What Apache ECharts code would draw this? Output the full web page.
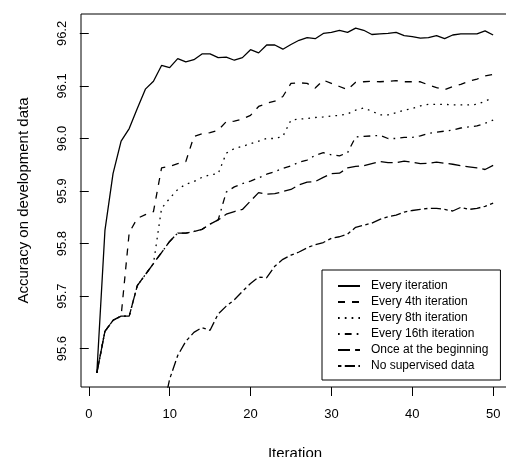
<!DOCTYPE html>
<html>
<head>
<meta charset="utf-8">
<script src="https://cdn.jsdelivr.net/npm/echarts@6/dist/echarts.min.js"></script>
<style>
  html, body { margin: 0; padding: 0; background: #fff; }
  #chart { width: 506px; height: 457px; }
</style>
</head>
<body>
<div id="chart"></div>
<script>
// iteration numbers on the x axis
var iterations = [1, 2, 3, 4, 5, 6, 7, 8, 9, 10, 11, 12, 13, 14, 15, 16, 17, 18, 19, 20,
    21, 22, 23, 24, 25, 26, 27, 28, 29, 30, 31, 32, 33, 34, 35, 36, 37, 38, 39, 40,
    41, 42, 43, 44, 45, 46, 47, 48, 49, 50];

var seriesNames = ['Every iteration', 'Every 4th iteration', 'Every 8th iteration',
    'Every 16th iteration', 'Once at the beginning', 'No supervised data'];

var everyIter = [95.554, 95.825, 95.933, 95.995, 96.019, 96.057, 96.094, 96.109, 96.139, 96.135,
    96.152, 96.146, 96.150, 96.161, 96.161, 96.154, 96.155, 96.149, 96.154, 96.169,
    96.163, 96.178, 96.178, 96.170, 96.179, 96.187, 96.192, 96.190, 96.200, 96.202,
    96.206, 96.202, 96.210, 96.206, 96.198, 96.199, 96.200, 96.202, 96.196, 96.194,
    96.191, 96.192, 96.196, 96.190, 96.197, 96.199, 96.199, 96.199, 96.205, 96.197];

var every4th = [95.554, 95.633, 95.654, 95.662, 95.821, 95.848, 95.855, 95.861, 95.944, 95.947,
    95.952, 95.956, 96.004, 96.009, 96.011, 96.016, 96.032, 96.033, 96.037, 96.044,
    96.061, 96.067, 96.071, 96.080, 96.105, 96.106, 96.105, 96.096, 96.111, 96.105,
    96.099, 96.093, 96.107, 96.108, 96.109, 96.108, 96.109, 96.110, 96.108, 96.108,
    96.108, 96.102, 96.097, 96.093, 96.099, 96.103, 96.109, 96.113, 96.119, 96.122];

var every8th = [95.554, 95.633, 95.654, 95.662, 95.662, 95.720, 95.741, 95.762, 95.867, 95.886,
    95.903, 95.913, 95.918, 95.926, 95.931, 95.933, 95.972, 95.981, 95.985, 95.990,
    95.995, 96.000, 96.000, 96.004, 96.035, 96.037, 96.038, 96.040, 96.041, 96.043,
    96.044, 96.047, 96.054, 96.058, 96.052, 96.045, 96.045, 96.049, 96.054, 96.057,
    96.062, 96.065, 96.065, 96.065, 96.064, 96.064, 96.064, 96.065, 96.071, 96.078];

var every16th = [95.554, 95.633, 95.654, 95.662, 95.662, 95.720, 95.741, 95.762, 95.783, 95.804,
    95.820, 95.820, 95.823, 95.827, 95.837, 95.845, 95.898, 95.908, 95.914, 95.919,
    95.925, 95.932, 95.937, 95.943, 95.948, 95.955, 95.959, 95.968, 95.973, 95.969,
    95.967, 95.973, 96.003, 96.004, 96.005, 96.006, 96.000, 96.000, 96.002, 96.002,
    96.005, 96.010, 96.012, 96.014, 96.016, 96.020, 96.022, 96.024, 96.029, 96.035];

var onceBegin = [95.554, 95.633, 95.654, 95.662, 95.662, 95.720, 95.741, 95.762, 95.783, 95.804,
    95.820, 95.820, 95.823, 95.827, 95.837, 95.845, 95.856, 95.861, 95.865, 95.881,
    95.897, 95.894, 95.895, 95.899, 95.903, 95.912, 95.917, 95.918, 95.926, 95.933,
    95.934, 95.944, 95.947, 95.948, 95.952, 95.956, 95.954, 95.954, 95.957, 95.955,
    95.952, 95.953, 95.955, 95.953, 95.951, 95.948, 95.946, 95.944, 95.941, 95.949];

// early values fall below the visible range
var noSupervised = [null, null, null, null, null, null, null, null, 95.470, 95.542,
    95.587, 95.614, 95.631, 95.640, 95.635, 95.666, 95.681, 95.693, 95.709, 95.724,
    95.736, 95.735, 95.757, 95.770, 95.778, 95.784, 95.792, 95.798, 95.802, 95.810,
    95.813, 95.818, 95.831, 95.835, 95.839, 95.846, 95.851, 95.854, 95.860, 95.863,
    95.865, 95.867, 95.867, 95.865, 95.862, 95.869, 95.865, 95.867, 95.871, 95.877];

var xTicks = [0, 10, 20, 30, 40, 50];
var yTicks = [95.6, 95.7, 95.8, 95.9, 96.0, 96.1, 96.2];

var FONT = '"Liberation Sans", Arial, Helvetica, sans-serif';

// R style line types (lty 1..6)
var dashTypes = ['solid', [7, 7], [1.7, 5.1], [1.7, 5.1, 6.8, 5.1], [12, 5.1], [3.4, 3.4, 10.2, 3.4]];

function pairs(values) {
    var out = [];
    for (var i = 0; i < iterations.length; i++) {
        out.push([iterations[i], values[i]]);
    }
    return out;
}

var chart = echarts.init(document.getElementById('chart'), null, {renderer: 'canvas'});

var allValues = [everyIter, every4th, every8th, every16th, onceBegin, noSupervised];
var series = [];
for (var s = 0; s < seriesNames.length; s++) {
    series.push({
        name: seriesNames[s],
        type: 'line',
        data: pairs(allValues[s]),
        symbol: 'none',
        showSymbol: false,
        connectNulls: false,
        clip: true,
        lineStyle: {color: '#000', width: 1.3, type: dashTypes[s]},
        itemStyle: {color: '#000'}
    });
}

var option = {
    animation: false,
    backgroundColor: '#fff',
    textStyle: {fontFamily: FONT, color: '#000'},
    grid: {
        left: 81, top: 14, width: 428, height: 373,
        outerBoundsMode: 'none',
        show: true, borderColor: '#000', borderWidth: 1
    },
    legend: {
        orient: 'vertical',
        left: 322, top: 270,
        padding: [10, 12, 8, 15],
        borderColor: '#000', borderWidth: 1,
        backgroundColor: '#fff',
        itemWidth: 22, itemHeight: 12, itemGap: 4,
        itemStyle: {opacity: 0},
        textStyle: {fontFamily: FONT, fontSize: 12, color: '#000', lineHeight: 12, padding: [0, 0, 0, 6]},
        data: seriesNames
    },
    xAxis: {
        type: 'value',
        min: -0.96, max: 51.96,
        name: 'Iteration',
        nameLocation: 'middle',
        nameGap: 59,
        nameTextStyle: {fontFamily: FONT, fontSize: 15, color: '#000'},
        axisLine: {show: false},
        axisTick: {show: true, length: 9, customValues: xTicks, lineStyle: {color: '#000'}},
        axisLabel: {customValues: xTicks, margin: 21, fontSize: 13, color: '#000', fontFamily: FONT},
        splitLine: {show: false}
    },
    yAxis: {
        type: 'value',
        min: 95.527, max: 96.237,
        name: 'Accuracy on development data',
        nameLocation: 'middle',
        nameRotate: 90,
        nameGap: 50,
        nameTextStyle: {fontFamily: FONT, fontSize: 15, color: '#000'},
        axisLine: {show: false},
        axisTick: {show: true, length: 9, customValues: yTicks, lineStyle: {color: '#000'}},
        axisLabel: {
            customValues: yTicks, rotate: 90, margin: 12, fontSize: 13, color: '#000', fontFamily: FONT,
            formatter: function (v) { return v.toFixed(1); }
        },
        splitLine: {show: false}
    },
    series: series
};

chart.setOption(option);
</script>
</body>
</html>
